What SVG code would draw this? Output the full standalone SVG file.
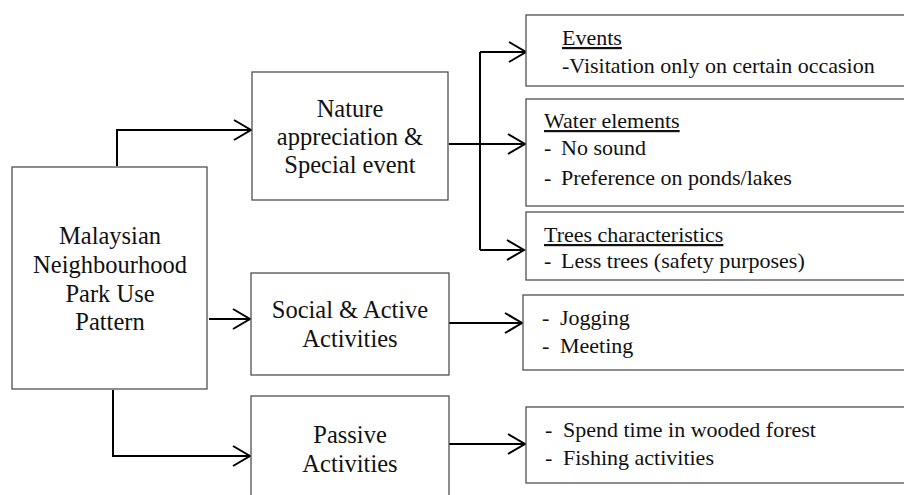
<svg xmlns="http://www.w3.org/2000/svg" width="904" height="495" viewBox="0 0 904 495">
<style>
.box{fill:#fff;stroke:#505050;stroke-width:1.3}
.big{font-family:'Liberation Serif',Tinos,'Times New Roman','DejaVu Serif',serif;font-size:24.5px;fill:#111;text-anchor:middle}
.sm{font-family:'Liberation Serif',Tinos,'Times New Roman','DejaVu Serif',serif;font-size:22px;fill:#111}
.u{text-decoration:underline}
.con{fill:none;stroke:#000;stroke-width:2}
</style>
<defs>
<marker id="ah" markerUnits="userSpaceOnUse" markerWidth="24" markerHeight="24" viewBox="-20 -12 24 24" refX="0" refY="0" orient="auto">
<path d="M-17,-10 L0,0 L-17,10" fill="none" stroke="#000" stroke-width="2"/>
</marker>
</defs>
<rect width="904" height="495" fill="#fff"/>
<g id="connectors">
<path class="con" d="M117,166 V130 H251" marker-end="url(#ah)"/>
<path class="con" d="M209,319 H250" marker-end="url(#ah)"/>
<path class="con" d="M113,390 V456 H250" marker-end="url(#ah)"/>
<path class="con" d="M449,144 H525" marker-end="url(#ah)"/>
<path class="con" d="M480,52 V250"/>
<path class="con" d="M480,52 H526" marker-end="url(#ah)"/>
<path class="con" d="M480,250 H524" marker-end="url(#ah)"/>
<path class="con" d="M449,323 H522" marker-end="url(#ah)"/>
<path class="con" d="M449,444 H525" marker-end="url(#ah)"/>
</g>
<g id="main">
<rect class="box" x="12" y="167" width="195" height="222"/>
<text class="big" x="110" y="244">Malaysian</text>
<text class="big" x="110" y="273">Neighbourhood</text>
<text class="big" x="110" y="302">Park Use</text>
<text class="big" x="110" y="330">Pattern</text>
</g>
<g id="nature">
<rect class="box" x="252" y="72" width="196" height="128"/>
<text class="big" x="350" y="117">Nature</text>
<text class="big" x="350" y="145">appreciation &amp;</text>
<text class="big" x="350" y="173">Special event</text>
</g>
<g id="social">
<rect class="box" x="251" y="273" width="198" height="102"/>
<text class="big" x="350" y="318">Social &amp; Active</text>
<text class="big" x="350" y="347">Activities</text>
</g>
<g id="passive">
<rect class="box" x="251" y="396" width="198" height="110"/>
<text class="big" x="350" y="443">Passive</text>
<text class="big" x="350" y="472">Activities</text>
</g>
<g id="events">
<rect class="box" x="526" y="15" width="390" height="71"/>
<text class="sm u" x="562" y="45">Events</text>
<text class="sm" x="562" y="73">-Visitation only on certain occasion</text>
</g>
<g id="water">
<rect class="box" x="526" y="99" width="390" height="107"/>
<text class="sm u" x="544" y="128">Water elements</text>
<text class="sm" x="544" y="155">-</text><text class="sm" x="561" y="155">No sound</text>
<text class="sm" x="544" y="185">-</text><text class="sm" x="561" y="185">Preference on ponds/lakes</text>
</g>
<g id="trees">
<rect class="box" x="526" y="212" width="390" height="68"/>
<text class="sm u" x="544" y="242">Trees characteristics</text>
<text class="sm" x="544" y="268">-</text><text class="sm" x="561" y="268">Less trees (safety purposes)</text>
</g>
<g id="jogging">
<rect class="box" x="523" y="295" width="390" height="75"/>
<text class="sm" x="542" y="325">-</text><text class="sm" x="560" y="325">Jogging</text>
<text class="sm" x="542" y="353">-</text><text class="sm" x="560" y="353">Meeting</text>
</g>
<g id="passive-items">
<rect class="box" x="526" y="407" width="390" height="76"/>
<text class="sm" x="545" y="437">-</text><text class="sm" x="563" y="437">Spend time in wooded forest</text>
<text class="sm" x="545" y="465">-</text><text class="sm" x="563" y="465">Fishing activities</text>
</g>
</svg>
